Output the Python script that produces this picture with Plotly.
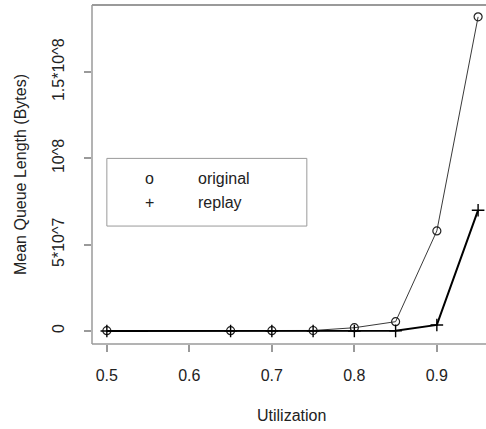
import plotly.graph_objects as go

# ---- data ----
utilization = [0.5, 0.65, 0.7, 0.75, 0.8, 0.85, 0.9, 0.95]
original = [2.0e5, 2.0e5, 2.0e5, 3.0e5, 1.9e6, 5.4e6, 5.8e7, 1.82e8]
replay = [0.0, 0.0, 0.0, 0.0, 0.0, 1.0e5, 3.5e6, 7.0e7]
x_ticks = [0.5, 0.6, 0.7, 0.8, 0.9]
x_ticklabels = ["0.5", "0.6", "0.7", "0.8", "0.9"]
y_ticks = [0, 5e7, 1e8, 1.5e8]
y_ticklabels = ["0", "5*10^7", "10^8", "1.5*10^8"]
legend_labels = ["original", "replay"]
legend_symbols = ["o", "+"]

FONT = "Liberation Sans, Arial, Helvetica, sans-serif"
TXT = "#222222"
BOX = "#9a9a9a"

W, H = 486, 429
L, T, B = 92, 5, 344
XR = [0.482, 0.482 + (W - L) / 825.0]
YR = [-(B - 331) * 5e7 / 86.3, (331 - T) * 5e7 / 86.3]

fig = go.Figure()
fig.add_trace(go.Scatter(
    x=utilization, y=original, mode="lines+markers", name="original",
    line=dict(color="#3a3a3a", width=1),
    marker=dict(symbol="circle-open", size=8, color="#222222", line=dict(width=1.2)),
    cliponaxis=False, showlegend=False))
fig.add_trace(go.Scatter(
    x=utilization, y=replay, mode="lines+markers", name="replay",
    line=dict(color="#000000", width=2),
    marker=dict(symbol="cross-thin-open", size=9, color="#000000", line=dict(width=1.4)),
    cliponaxis=False, showlegend=False))

# plot box (left, top, bottom; right side is cut off by the picture edge)
shapes = [
    dict(type="line", xref="paper", yref="paper", x0=0, x1=0, y0=0, y1=1, line=dict(color=BOX, width=1.5)),
    dict(type="line", xref="paper", yref="paper", x0=0, x1=1, y0=1, y1=1, line=dict(color=BOX, width=2)),
    dict(type="line", xref="paper", yref="paper", x0=0, x1=1, y0=0, y1=0, line=dict(color=BOX, width=1.5)),
]
# legend box (data coordinates)
lx0, lx1 = 0.5, 0.7424
ly0, ly1 = 6.08e7, 1.0e8
shapes.append(dict(type="rect", xref="x", yref="y", x0=lx0, x1=lx1, y0=ly0, y1=ly1,
                   line=dict(color=BOX, width=1), fillcolor="rgba(0,0,0,0)"))

annotations = []
leg_y = [8.81e7, 7.47e7]
for sym, lab, yy in zip(legend_symbols, legend_labels, leg_y):
    annotations.append(dict(x=0.552, y=yy, xref="x", yref="y", text=sym, showarrow=False,
                            xanchor="center", yanchor="middle", font=dict(family=FONT, size=16, color=TXT)))
    annotations.append(dict(x=0.608, y=yy, xref="x", yref="y", text=lab, showarrow=False,
                            xanchor="left", yanchor="middle", font=dict(family=FONT, size=16, color=TXT)))

pw = W - L
ph = B - T
annotations.append(dict(x=(291.5 - L) / pw, y=(B - 416) / ph, xref="paper", yref="paper",
                        text="Utilization", showarrow=False, xanchor="center", yanchor="middle",
                        font=dict(family=FONT, size=16, color=TXT)))
annotations.append(dict(x=(20 - L) / pw, y=(B - 175) / ph, xref="paper", yref="paper",
                        text="Mean Queue Length (Bytes)", showarrow=False, textangle=-90,
                        xanchor="center", yanchor="middle",
                        font=dict(family=FONT, size=16, color=TXT)))

fig.update_layout(
    width=W, height=H,
    margin=dict(l=L, r=0, t=T, b=H - B, pad=0),
    paper_bgcolor="white", plot_bgcolor="white",
    xaxis=dict(range=XR, tickvals=x_ticks, ticktext=x_ticklabels, showgrid=False, zeroline=False,
               showline=False, ticks="outside", ticklen=7, tickcolor=BOX, tickwidth=1.5,
               ticklabelstandoff=10,
               tickfont=dict(family=FONT, size=16, color=TXT)),
    yaxis=dict(range=YR, tickvals=y_ticks, ticktext=y_ticklabels, showgrid=False, zeroline=False,
               showline=False, ticks="outside", ticklen=7, tickcolor=BOX, tickwidth=1.5,
               tickangle=-90, ticklabelstandoff=14,
               tickfont=dict(family=FONT, size=16, color=TXT)),
    shapes=shapes, annotations=annotations,
)
fig.write_html("out.html")
